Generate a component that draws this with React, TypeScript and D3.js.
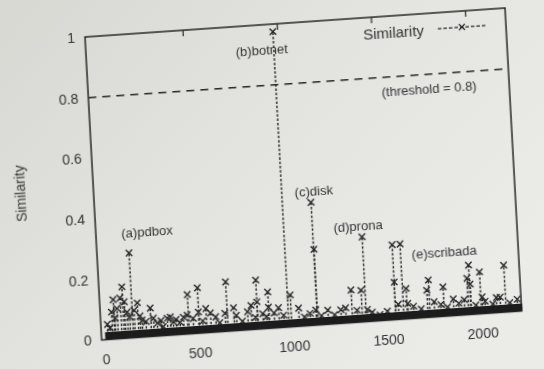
import React, { useEffect, useRef } from 'react';
import * as d3 from 'd3';

// similarity of each sample (x = sample index, y = similarity)
const peakX = [150, 975, 1127, 1387, 1544, 1586];
const peakY = [0.28, 0.975, 0.405, 0.28, 0.247, 0.248];

const sampleX = [
  102, 89, 52, 179, 246, 123, 57, 200, 333, 446, 419, 28, 279, 364,
  501, 652, 687, 812, 872, 925, 990, 1031, 440, 500, 563, 812, 800, 872,
  1129, 1122, 1185, 1254, 1313, 1366, 1395, 1340,
  1544, 1605, 1560, 1610,
  1725, 1714, 1801, 1785, 1852, 1942, 1930, 1945, 1998, 2005, 2080, 2128, 2060, 2190,
  15, 40, 70, 110, 135, 160, 190, 220, 260, 300, 310, 350, 380, 400,
  470, 520, 540, 590, 610, 640, 700, 730, 760, 780, 840, 860, 900, 950,
  1060, 1090, 1150, 1220, 1280, 1420, 1460, 1500, 1640, 1680, 1750, 1820,
  1880, 1910, 1970, 2020, 2100, 2150
];
const sampleY = [
  0.17, 0.134, 0.13, 0.114, 0.094, 0.086, 0.069, 0.056, 0.057, 0.13, 0.057, 0.038, 0.043, 0.043,
  0.15, 0.163, 0.076, 0.162, 0.12, 0.066, 0.105, 0.06, 0.063, 0.07, 0.064, 0.09, 0.04, 0.07,
  0.25, 0.05, 0.047, 0.045, 0.108, 0.105, 0.04, 0.04,
  0.124, 0.1, 0.05, 0.05,
  0.123, 0.09, 0.097, 0.04, 0.055, 0.163, 0.12, 0.1, 0.138, 0.055, 0.05, 0.155, 0.03, 0.04,
  0.05, 0.09, 0.1, 0.12, 0.07, 0.09, 0.07, 0.05, 0.06, 0.05, 0.03, 0.06, 0.05, 0.04,
  0.05, 0.04, 0.08, 0.05, 0.03, 0.06, 0.05, 0.03, 0.06, 0.08, 0.05, 0.04, 0.05, 0.04,
  0.03, 0.04, 0.03, 0.03, 0.05, 0.03, 0.02, 0.03, 0.04, 0.03, 0.05, 0.03,
  0.04, 0.05, 0.03, 0.04, 0.05, 0.03
];

// dense run of near-zero samples along the floor
const floorRange = [0, 2215];
const floorLevel = 0.013;

const threshold = 0.8;
const xTicks = [0, 500, 1000, 1500, 2000];
const yTicks = [0, 0.2, 0.4, 0.6, 0.8, 1];
const yTickLabels = ['0', '0.2', '0.4', '0.6', '0.8', '1'];

const labelText = ['(a)pdbox', '(b)botnet', '(c)disk', '(d)prona', '(e)scribada'];
const labelX = [251, 911, 1145, 1369, 1817];
const labelY = [0.33, 0.9, 0.425, 0.3, 0.195];

const App: React.FC = () => {
  const svgRef = useRef<SVGSVGElement>(null);

  useEffect(() => {
    if (!svgRef.current) return;
    const W = 420;
    const H = 303;
    const ink = '#262626';

    d3.select(svgRef.current).selectAll('*').remove();
    const root = d3.select(svgRef.current);

    const defs = root.append('defs');
    const grad = defs.append('linearGradient')
      .attr('id', 'paper')
      .attr('x1', '0').attr('y1', '0').attr('x2', '1').attr('y2', '0.6');
    grad.append('stop').attr('offset', '0').attr('stop-color', '#d8d8d3');
    grad.append('stop').attr('offset', '0.5').attr('stop-color', '#e3e3df');
    grad.append('stop').attr('offset', '1').attr('stop-color', '#ebebe8');
    defs.append('filter').attr('id', 'soft')
      .append('feGaussianBlur').attr('stdDeviation', 0.45);

    root.append('rect').attr('width', 544).attr('height', 369).attr('fill', 'url(#paper)');

    // the photo is skewed: draw in a flat frame then shear it
    const g = root.append('g')
      .attr('transform', 'matrix(1,-0.069,0.055,1,85,37)')
      .attr('filter', 'url(#soft)')
      .style('font-family', '"Liberation Sans", Arial, sans-serif');

    const x = d3.scaleLinear().domain([-20, 2210]).range([0, W]);
    const y = d3.scaleLinear().domain([0, 1]).range([H, 0]);

    // frame
    g.append('rect')
      .attr('width', W).attr('height', H)
      .attr('fill', 'none').attr('stroke', ink).attr('stroke-width', 1.5);

    // top mirror ticks
    g.selectAll('.ttick').data(xTicks.slice(1)).enter().append('line')
      .attr('x1', d => x(d)).attr('x2', d => x(d))
      .attr('y1', 0).attr('y2', 6)
      .attr('stroke', ink).attr('stroke-width', 1.2);

    // tick labels
    g.selectAll('.xl').data(xTicks).enter().append('text')
      .attr('x', d => x(d)).attr('y', H + 25)
      .attr('text-anchor', 'middle')
      .attr('font-size', 14).attr('fill', '#333')
      .text(d => String(d));

    g.selectAll('.yl').data(yTicks).enter().append('text')
      .attr('x', -10).attr('y', d => y(d) + 5)
      .attr('text-anchor', 'end')
      .attr('font-size', 14).attr('fill', '#333')
      .text((d, i) => yTickLabels[i]);

    g.append('text')
      .attr('transform', `translate(-68,${y(0.5)}) rotate(-90)`)
      .attr('text-anchor', 'middle')
      .attr('font-size', 14).attr('fill', '#333')
      .text('Similarity');

    // threshold
    g.append('line')
      .attr('x1', 0).attr('x2', W)
      .attr('y1', y(threshold)).attr('y2', y(threshold))
      .attr('stroke', ink).attr('stroke-width', 1.5)
      .attr('stroke-dasharray', '8,6');
    g.append('text')
      .attr('x', 340).attr('y', y(threshold) + 19)
      .attr('text-anchor', 'middle')
      .attr('font-size', 13).attr('fill', '#333')
      .text(`(threshold = ${threshold})`);

    const pts = sampleX.map((d, i) => ({ x: d, y: sampleY[i] }))
      .concat(peakX.map((d, i) => ({ x: d, y: peakY[i] })));

    // impulses
    g.selectAll('.imp').data(pts).enter().append('line')
      .attr('x1', d => x(d.x)).attr('x2', d => x(d.x))
      .attr('y1', y(floorLevel)).attr('y2', d => y(d.y))
      .attr('stroke', ink).attr('stroke-width', 1.4)
      .attr('stroke-dasharray', '2.5,1.8');

    const cross = (sel: any, s: number) => {
      sel.append('path')
        .attr('d', (d: any) => {
          const cx = x(d.x);
          const cy = y(d.y);
          return `M${cx - s},${cy - s}L${cx + s},${cy + s}M${cx - s},${cy + s}L${cx + s},${cy - s}`;
        })
        .attr('stroke', ink).attr('stroke-width', 1.4).attr('fill', 'none');
    };
    cross(g.selectAll('.pt').data(pts).enter(), 3.2);

    // floor band of near-zero samples
    g.append('line')
      .attr('x1', x(floorRange[0])).attr('x2', x(floorRange[1]))
      .attr('y1', y(floorLevel)).attr('y2', y(floorLevel))
      .attr('stroke', '#1a1a1a').attr('stroke-width', 7);

    // annotations
    g.selectAll('.ann').data(labelText).enter().append('text')
      .attr('x', (d, i) => x(labelX[i])).attr('y', (d, i) => y(labelY[i]))
      .attr('text-anchor', 'middle')
      .attr('font-size', 13).attr('fill', '#333')
      .text(d => d);

    // legend
    g.append('text')
      .attr('x', 338).attr('y', 22)
      .attr('text-anchor', 'end')
      .attr('font-size', 15).attr('fill', '#333')
      .text('Similarity');
    g.append('line')
      .attr('x1', 352).attr('x2', 400).attr('y1', 16).attr('y2', 16)
      .attr('stroke', ink).attr('stroke-width', 1.3).attr('stroke-dasharray', '3.5,2');
    g.append('path')
      .attr('d', 'M373,13L379,19M373,19L379,13')
      .attr('stroke', ink).attr('stroke-width', 1.2);
  }, []);

  return (
    <svg ref={svgRef} width={544} height={369}
      style={{ position: 'absolute', left: 0, top: 0, display: 'block' }} />
  );
};

export default App;
